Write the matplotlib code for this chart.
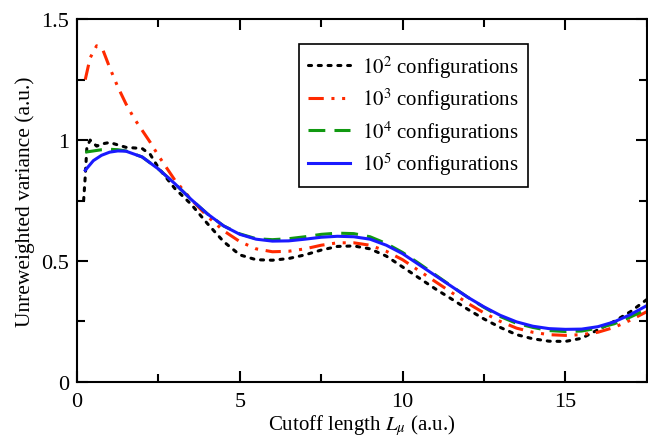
import matplotlib
matplotlib.use("Agg")
import matplotlib.pyplot as plt
from matplotlib.ticker import MultipleLocator

plt.rcParams['font.family'] = ['Liberation Serif', 'DejaVu Serif']
plt.rcParams['mathtext.fontset'] = 'stix'

# 10^2 configurations
x_1e2 = [0.2, 0.25, 0.3, 0.4, 0.6, 0.8, 1.0, 1.25, 1.5, 2.0, 2.25, 2.5, 3.0, 3.5, 4.0,
         4.5, 5.0, 5.5, 6.0, 6.5, 7.0, 7.5, 8.0, 8.5, 9.0, 9.5, 10.0, 10.5, 11.0, 11.5,
         12.0, 12.5, 13.0, 13.5, 14.0, 14.5, 15.0, 15.5, 16.0, 16.5, 17.0, 17.5]
y_1e2 = [0.75, 0.85, 0.97, 1.0, 0.975, 0.985, 0.99, 0.98, 0.97, 0.965, 0.94, 0.885, 0.80, 0.735, 0.655,
         0.58, 0.525, 0.505, 0.503, 0.51, 0.525, 0.545, 0.56, 0.562, 0.55, 0.52, 0.475, 0.43, 0.385, 0.343,
         0.30, 0.26, 0.225, 0.195, 0.178, 0.168, 0.167, 0.18, 0.215, 0.25, 0.29, 0.34]

# 10^3 configurations
x_1e3 = [0.25, 0.4, 0.6, 0.8, 1.0, 1.25, 1.5, 1.75, 2.0, 2.25, 2.5, 2.75, 3.0, 3.5, 4.0,
         4.5, 5.0, 5.5, 6.0, 6.5, 7.0, 7.5, 8.0, 8.5, 9.0, 9.5, 10.0, 10.5, 11.0, 11.5,
         12.0, 12.5, 13.0, 13.5, 14.0, 14.5, 15.0, 15.5, 16.0, 16.5, 17.0, 17.5]
y_1e3 = [1.25, 1.34, 1.39, 1.37, 1.30, 1.22, 1.15, 1.09, 1.04, 0.99, 0.935, 0.885, 0.835, 0.755, 0.685,
         0.625, 0.58, 0.55, 0.538, 0.54, 0.55, 0.565, 0.575, 0.575, 0.565, 0.54, 0.505, 0.46, 0.415, 0.37,
         0.325, 0.285, 0.25, 0.222, 0.205, 0.195, 0.192, 0.195, 0.205, 0.225, 0.255, 0.29]

# 10^4 configurations
x_1e4 = [0.25, 0.5, 0.75, 1.0, 1.25, 1.5, 2.0, 2.5, 3.0, 3.5, 4.0, 4.5, 5.0, 5.5, 6.0,
         6.5, 7.0, 7.5, 8.0, 8.5, 9.0, 9.5, 10.0, 10.5, 11.0, 11.5, 12.0, 12.5, 13.0, 13.5,
         14.0, 14.5, 15.0, 15.5, 16.0, 16.5, 17.0, 17.5]
y_1e4 = [0.95, 0.955, 0.96, 0.962, 0.96, 0.955, 0.93, 0.88, 0.82, 0.755, 0.695, 0.645, 0.612, 0.592, 0.588,
         0.592, 0.60, 0.61, 0.615, 0.613, 0.60, 0.572, 0.535, 0.49, 0.443, 0.396, 0.35, 0.308, 0.27, 0.242,
         0.225, 0.212, 0.208, 0.21, 0.222, 0.24, 0.268, 0.30]

# 10^5 configurations
x_1e5 = [0.25, 0.5, 0.75, 1.0, 1.25, 1.5, 2.0, 2.5, 3.0, 3.5, 4.0, 4.5, 5.0, 5.5, 6.0,
         6.5, 7.0, 7.5, 8.0, 8.5, 9.0, 9.5, 10.0, 10.5, 11.0, 11.5, 12.0, 12.5, 13.0, 13.5,
         14.0, 14.5, 15.0, 15.5, 16.0, 16.5, 17.0, 17.5]
y_1e5 = [0.875, 0.915, 0.937, 0.95, 0.955, 0.954, 0.93, 0.88, 0.82, 0.755, 0.695, 0.645, 0.61, 0.59, 0.582,
         0.583, 0.59, 0.598, 0.602, 0.60, 0.59, 0.565, 0.53, 0.485, 0.44, 0.395, 0.35, 0.31, 0.275, 0.248,
         0.23, 0.22, 0.217, 0.218, 0.228, 0.248, 0.278, 0.315]

fig = plt.figure(figsize=(6.48, 4.39), dpi=100)
ax = fig.add_axes([0.119, 0.128, 0.879, 0.826])

ax.plot(x_1e2, y_1e2, color='black', linestyle=(0, (1, 2.2)), lw=2.2,
        dash_capstyle='round', label='$10^2$ configurations')
ax.plot(x_1e3, y_1e3, color='#ff2a00', linestyle=(0, (5, 2.5, 1, 2.5, 1, 2.5)), lw=2.2,
        label='$10^3$ configurations')
ax.plot(x_1e4, y_1e4, color='#119911', linestyle=(0, (5.5, 3)), lw=2.2,
        label='$10^4$ configurations')
ax.plot(x_1e5, y_1e5, color='#1a1aff', linestyle='-', lw=2.2,
        label='$10^5$ configurations')

ax.set_xlim(0, 17.5)
ax.set_ylim(0, 1.5)
ax.xaxis.set_major_locator(MultipleLocator(5))
ax.xaxis.set_minor_locator(MultipleLocator(2.5))
ax.yaxis.set_minor_locator(MultipleLocator(0.25))
ax.set_yticks([0, 0.5, 1, 1.5])
ax.set_yticklabels(['0', '0.5', '1', '1.5'])
ax.tick_params(which='both', direction='in', top=True, right=True, width=1.5, labelsize=16)
ax.tick_params(axis='x', pad=7)
ax.tick_params(axis='y', pad=6)
ax.tick_params(which='major', length=8)
ax.tick_params(which='minor', length=6)
for s in ax.spines.values():
    s.set_linewidth(1.5)

ax.set_xlabel(r'Cutoff length $L_\mu$ (a.u.)', fontsize=15, labelpad=1)
ax.set_ylabel('Unreweighted variance (a.u.)', fontsize=15.5)

leg = ax.legend(loc='upper left', bbox_to_anchor=(0.389, 0.931), fontsize=15,
                fancybox=False, edgecolor='black', framealpha=1, handlelength=2.0,
                labelspacing=0.28, borderpad=0.45, handletextpad=0.6, borderaxespad=0)
leg.get_frame().set_linewidth(1.2)

fig.savefig('out.png', dpi=100)
